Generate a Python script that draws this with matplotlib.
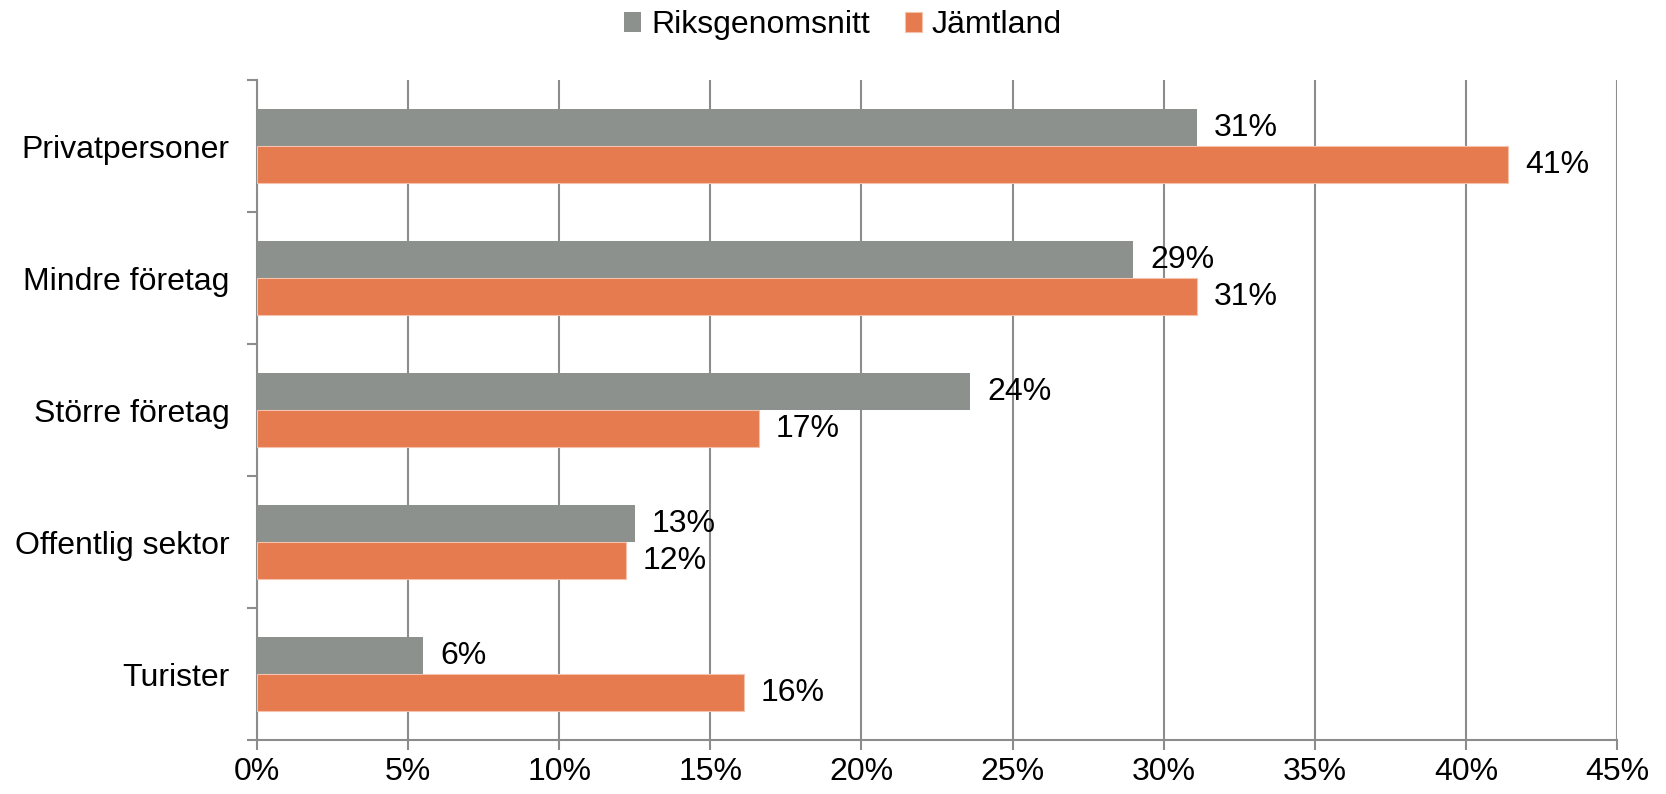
import matplotlib
matplotlib.use("Agg")
import matplotlib.pyplot as plt
import numpy as np
from matplotlib.ticker import FixedLocator, PercentFormatter

plt.rcParams['font.family'] = ['Liberation Sans', 'DejaVu Sans']

categories = ["Privatpersoner", "Mindre företag", "Större företag", "Offentlig sektor", "Turister"]
riks = [31.1, 29.0, 23.6, 12.5, 5.5]
jamt = [41.4, 31.1, 16.6, 12.2, 16.1]
riks_labels = ["31%", "29%", "24%", "13%", "6%"]
jamt_labels = ["41%", "31%", "17%", "12%", "16%"]
series_names = ["Riksgenomsnitt", "Jämtland"]
xticks = [0, 5, 10, 15, 20, 25, 30, 35, 40, 45]

gray = "#8C918E"
orange = "#E67B50"
gridc = "#8C8C8C"
fs = 23

fig = plt.figure(figsize=(16.66, 7.94), dpi=100)
ax = fig.add_axes([0.1543, 0.068, 0.8163, 0.831])

n = len(categories)
y = np.arange(n)
h = 0.28
b1 = ax.barh(y - h / 2, riks, height=h, color=gray, label=series_names[0], zorder=3)
b2 = ax.barh(y + h / 2, jamt, height=h, color=orange, label=series_names[1], zorder=3,
             edgecolor="#F4C1AA", linewidth=0.8)

for bars, labs in ((b1, riks_labels), (b2, jamt_labels)):
    for r, t in zip(bars, labs):
        ax.text(r.get_width() + 0.55, r.get_y() + r.get_height() / 2, t,
                va="center", ha="left", fontsize=fs, color="black", zorder=4)

ax.set_xlim(0, 45)
ax.set_ylim(n - 0.5, -0.5)
ax.xaxis.set_major_locator(FixedLocator(xticks))
ax.xaxis.set_major_formatter(PercentFormatter(decimals=0))
ax.set_yticks(y)
ax.set_yticklabels(categories)
ax.yaxis.set_minor_locator(FixedLocator(np.arange(-0.5, n, 1.0)))

ax.tick_params(axis="y", which="major", length=0, pad=20, labelsize=fs)
ax.tick_params(axis="y", which="minor", length=7, width=1.5, color=gridc, direction="out")
ax.tick_params(axis="x", which="major", length=7, width=1.5, color=gridc, pad=5, labelsize=fs)

ax.grid(axis="x", color=gridc, linewidth=1.5, zorder=0)
ax.set_axisbelow(True)
for s in ("top", "right"):
    ax.spines[s].set_visible(False)
for s in ("left", "bottom"):
    ax.spines[s].set_color(gridc)
    ax.spines[s].set_linewidth(1.5)

fig.legend(handles=[b1, b2], labels=series_names, loc="center", bbox_to_anchor=(0.506, 0.968),
           ncol=2, frameon=False, fontsize=fs, handlelength=0.55, handleheight=0.55,
           handletextpad=0.3, columnspacing=1.1)

fig.savefig("out.png", dpi=100)
